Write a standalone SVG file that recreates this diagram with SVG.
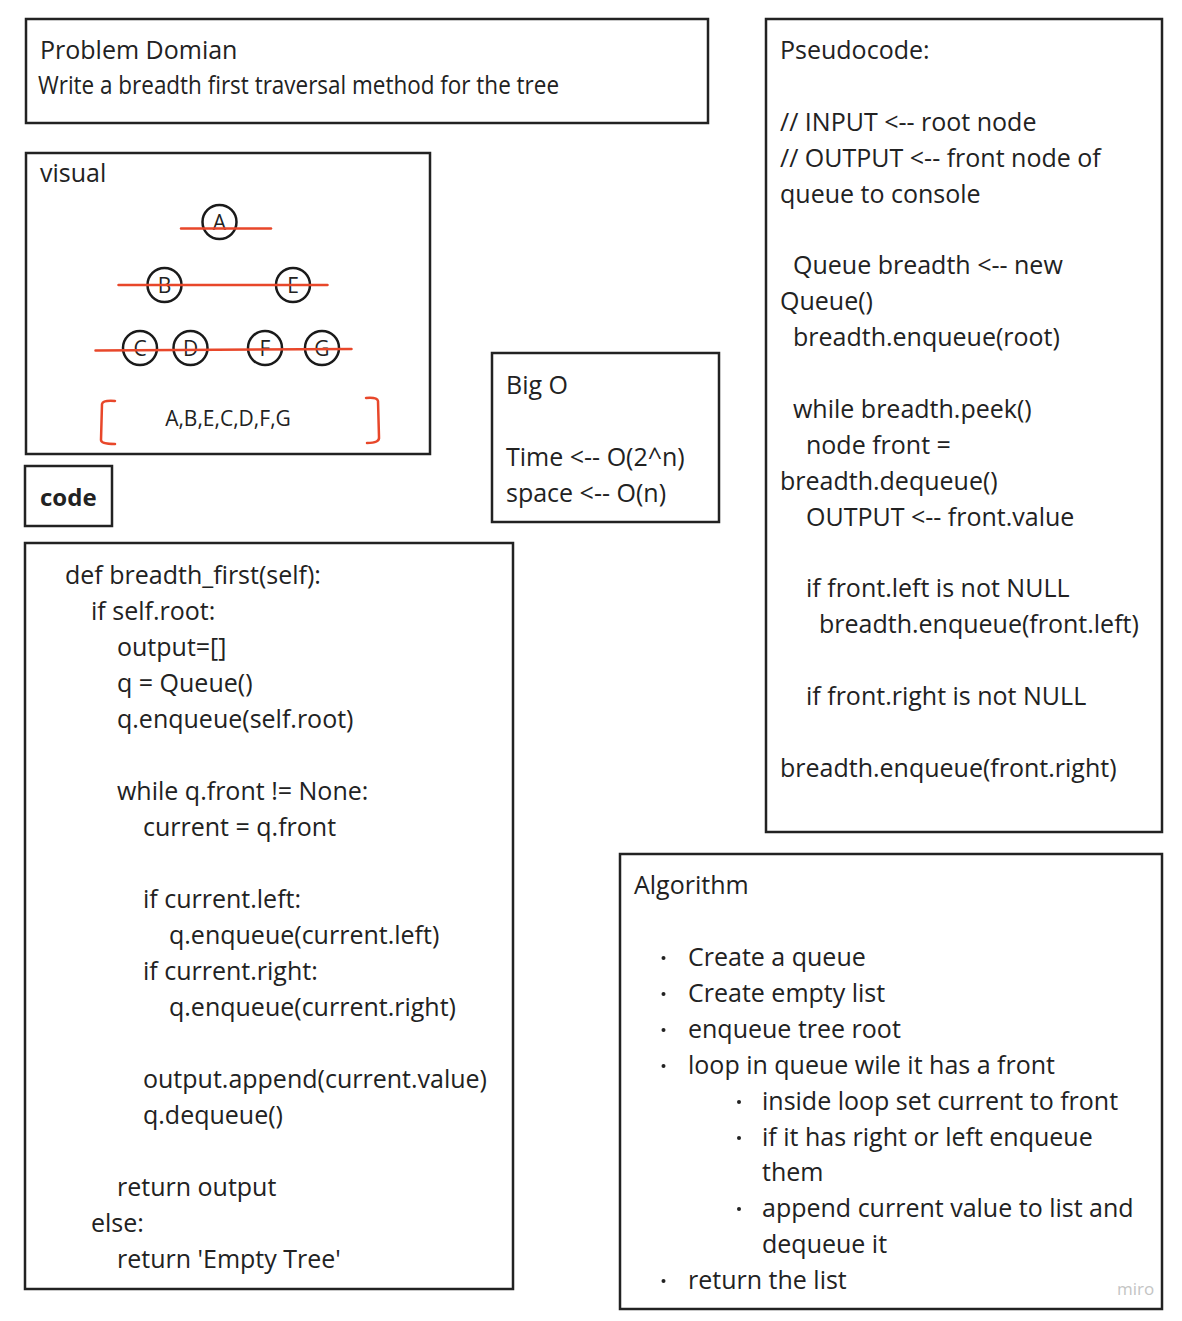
<svg xmlns="http://www.w3.org/2000/svg" width="1182" height="1321" viewBox="0 0 1182 1321">
<style>
.box{fill:#fff;stroke:#222;stroke-width:2.5}
.t{font-family:"Open Sans","Noto Sans","Liberation Sans",sans-serif;font-size:25px;fill:#222}
.s{font-size:21px}
.b{font-weight:bold;font-size:24px}
.node{fill:none;stroke:#1a1a1a;stroke-width:2.5}
.red{fill:none;stroke:#e8472a;stroke-width:2.5;stroke-linecap:round}
.lbl{text-anchor:middle}
</style>
<rect width="1182" height="1321" fill="#fff"/>
<g id="problem-domain">
<rect class="box" x="26" y="19" width="682" height="104"/>
<text class="t" x="40" y="59">Problem Domian</text>
<text class="t" x="38" y="94" textLength="521" lengthAdjust="spacingAndGlyphs">Write a breadth first traversal method for the tree</text>
</g>
<g id="visual">
<rect class="box" x="26" y="153" width="404" height="301"/>
<text class="t" x="40" y="182">visual</text>
<g class="t s lbl">
<text x="219.5" y="229.5">A</text>
<text x="164.5" y="292.5">B</text>
<text x="293" y="292.5">E</text>
<text x="140" y="355.5">C</text>
<text x="190.5" y="355.5">D</text>
<text x="265" y="355.5">F</text>
<text x="322" y="355.5">G</text>
</g>
<circle class="node" cx="219.5" cy="222" r="17"/>
<circle class="node" cx="164.5" cy="285" r="17"/>
<circle class="node" cx="293" cy="285" r="17"/>
<circle class="node" cx="140" cy="348" r="17"/>
<circle class="node" cx="190.5" cy="348" r="17"/>
<circle class="node" cx="265" cy="348" r="17"/>
<circle class="node" cx="322" cy="348" r="17"/>
<line class="red" x1="181" y1="228.5" x2="271" y2="228.5"/>
<line class="red" x1="118.5" y1="285" x2="327.5" y2="285"/>
<line class="red" x1="95.5" y1="350.5" x2="351.5" y2="349"/>
<path class="red" d="M115 401 Q103 400 102 404 L101 440 Q101 444 115 444"/>
<path class="red" d="M366 398 Q377 397 378 401 L379 437 Q380 443 367 443"/>
<text class="t s lbl" x="228" y="425.5">A,B,E,C,D,F,G</text>
</g>
<g id="code-label">
<rect class="box" x="25" y="466" width="87" height="60"/>
<text class="t b" x="40" y="506">code</text>
</g>
<g id="big-o">
<rect class="box" x="492" y="353" width="227" height="169"/>
<text class="t" x="506" y="394">Big O</text>
<text class="t" x="506" y="466">Time &lt;-- O(2^n)</text>
<text class="t" x="506" y="502">space &lt;-- O(n)</text>
</g>
<g id="code">
<rect class="box" x="25" y="543" width="488" height="746"/>
<g class="t">
<text x="65" y="584">def breadth_first(self):</text>
<text x="91" y="620">if self.root:</text>
<text x="117" y="656">output=[]</text>
<text x="117" y="692">q = Queue()</text>
<text x="117" y="728">q.enqueue(self.root)</text>
<text x="117" y="800">while q.front != None:</text>
<text x="143" y="836">current = q.front</text>
<text x="143" y="908">if current.left:</text>
<text x="169" y="944">q.enqueue(current.left)</text>
<text x="143" y="980">if current.right:</text>
<text x="169" y="1016">q.enqueue(current.right)</text>
<text x="143" y="1088">output.append(current.value)</text>
<text x="143" y="1124">q.dequeue()</text>
<text x="117" y="1196">return output</text>
<text x="91" y="1232">else:</text>
<text x="117" y="1268">return 'Empty Tree'</text>
</g>
</g>
<g id="pseudocode">
<rect class="box" x="766" y="19" width="396" height="813"/>
<g class="t">
<text x="780" y="59">Pseudocode:</text>
<text x="780" y="131">// INPUT &lt;-- root node</text>
<text x="780" y="167">// OUTPUT &lt;-- front node of</text>
<text x="780" y="203">queue to console</text>
<text x="793" y="274">Queue breadth &lt;-- new</text>
<text x="780" y="310">Queue()</text>
<text x="793" y="346">breadth.enqueue(root)</text>
<text x="793" y="418">while breadth.peek()</text>
<text x="806" y="454">node front =</text>
<text x="780" y="490">breadth.dequeue()</text>
<text x="806" y="526">OUTPUT &lt;-- front.value</text>
<text x="806" y="597">if front.left is not NULL</text>
<text x="819" y="633">breadth.enqueue(front.left)</text>
<text x="806" y="705">if front.right is not NULL</text>
<text x="780" y="777">breadth.enqueue(front.right)</text>
</g>
</g>
<g id="algorithm">
<rect class="box" x="620" y="854" width="542" height="455"/>
<g class="t">
<text x="634" y="894">Algorithm</text>
<text x="688" y="966">Create a queue</text>
<text x="688" y="1002">Create empty list</text>
<text x="688" y="1038">enqueue tree root</text>
<text x="688" y="1074">loop in queue wile it has a front</text>
<text x="762" y="1110">inside loop set current to front</text>
<text x="762" y="1146">if it has right or left enqueue</text>
<text x="762" y="1181">them</text>
<text x="762" y="1217">append current value to list and</text>
<text x="762" y="1253">dequeue it</text>
<text x="688" y="1289">return the list</text>
</g>
<g fill="#222">
<circle cx="663.5" cy="958" r="2"/>
<circle cx="663.5" cy="994" r="2"/>
<circle cx="663.5" cy="1030" r="2"/>
<circle cx="663.5" cy="1066" r="2"/>
<circle cx="739" cy="1102" r="2"/>
<circle cx="739" cy="1138" r="2"/>
<circle cx="739" cy="1209" r="2"/>
<circle cx="663.5" cy="1281" r="2"/>
</g>
<text x="1117" y="1295" style="font-family:'Open Sans','Liberation Sans',sans-serif;font-size:17px;fill:#c4c4c4">miro</text>
</g>
<g id="connectors"/>
</svg>
